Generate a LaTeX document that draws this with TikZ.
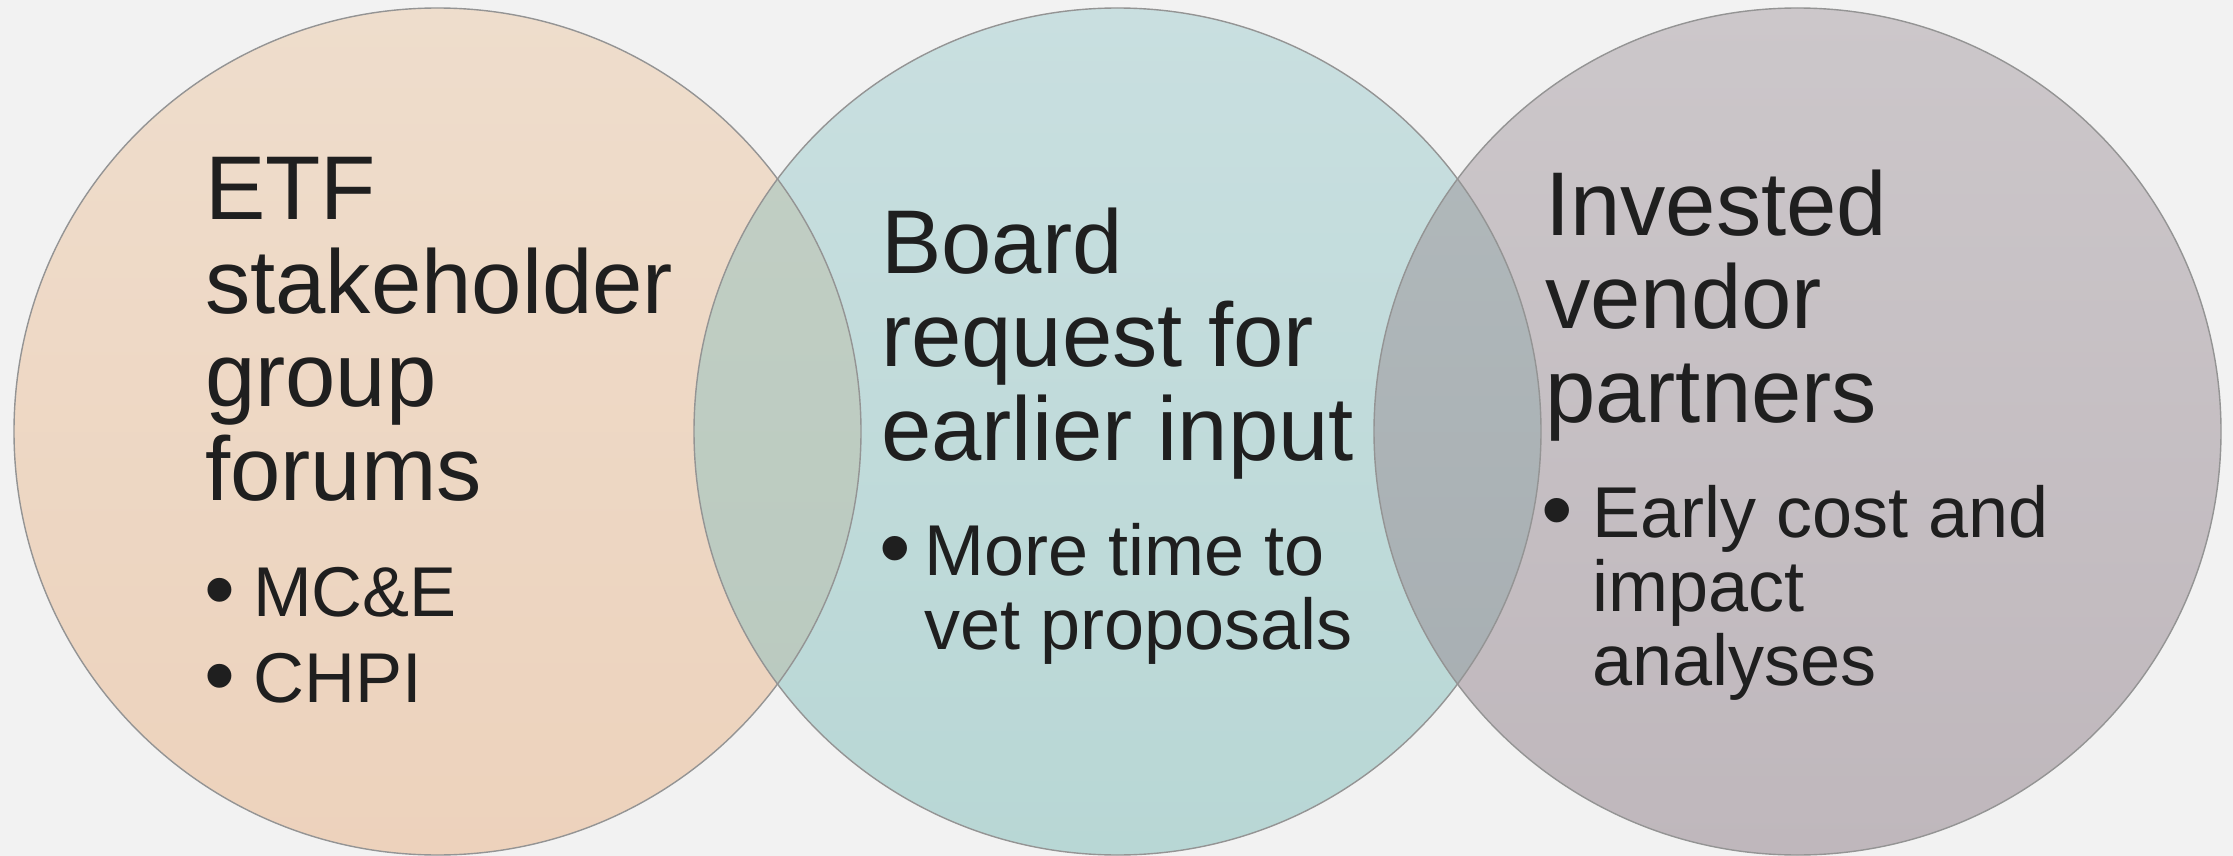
\documentclass[tikz,border=0pt]{standalone}
\usepackage{fontspec}
\setmainfont{Liberation Sans}
\usepackage{graphicx}
\usepackage{xcolor}
\usetikzlibrary{positioning}

\definecolor{pagebg}{HTML}{F2F2F2}
\definecolor{etftop}{HTML}{EEDDCC}
\definecolor{etfbot}{HTML}{EDD2BC}
\definecolor{boardtop}{HTML}{C9DFE0}
\definecolor{boardbot}{HTML}{B8D7D5}
\definecolor{vendtop}{HTML}{CCC7CA}
\definecolor{vendbot}{HTML}{BFB7BC}
\definecolor{lenslt}{HTML}{C3CFC4}
\definecolor{lenslb}{HTML}{B8C9BF}
\definecolor{lensrt}{HTML}{B2BABC}
\definecolor{lensrb}{HTML}{A6ADB1}
\definecolor{ink}{HTML}{1F1F1F}

% bullet item and its continuation line
\newcommand{\vbul}[2][46pt]{\makebox[#1][l]{\raisebox{-3.5pt}{\scalebox{1.25}{\textbullet}}}#2}
\newcommand{\vcont}[2][46pt]{\hspace*{#1}#2}

\begin{document}
\begin{tikzpicture}[x=1pt,y=-1pt,
  ring/.style={draw=black!42,line width=1.4pt},
  blurb/.style={anchor=base west,inner sep=0pt,align=left,text=ink},
  head/.style={blurb,font={\fontsize{90.5}{93.5}\selectfont}},
  items/.style={blurb,font={\fontsize{72}{74}\selectfont}}]
\fill[pagebg] (0,0) rectangle (2233,856);
\useasboundingbox (0,0) rectangle (2233,856);

\coordinate (etf) at (437.5,431.5);
\coordinate (board) at (1117.5,431.5);
\coordinate (vendor) at (1797.5,431.5);
\def\rad{423.5}

% circles
\shade[top color=etftop,bottom color=etfbot] (etf) circle (\rad);
\shade[top color=boardtop,bottom color=boardbot] (board) circle (\rad);
\shade[top color=vendtop,bottom color=vendbot] (vendor) circle (\rad);

% overlaps
\begin{scope}
  \clip (etf) circle (\rad);
  \shade[top color=lenslt,bottom color=lenslb] (board) circle (\rad);
\end{scope}
\begin{scope}
  \clip (board) circle (\rad);
  \shade[top color=lensrt,bottom color=lensrb] (vendor) circle (\rad);
\end{scope}

\draw[ring] (etf) circle (\rad);
\draw[ring] (board) circle (\rad);
\draw[ring] (vendor) circle (\rad);

% texts (base anchor sits on the last line)
\node[head] (etfhead) at (205,500) {ETF\\stakeholder\\group\\forums};
\node[items,font={\fontsize{70.5}{74}\selectfont}] (etflist) at (204,702)
  {\vbul[49pt]{MC\&E}\\[11.7pt]\vbul[49pt]{CHPI}};

\node[head] (boardhead) at (881,460) {Board\\request for\\earlier input};
\node[items] (boardlist) at (879,649)
  {\vbul[45pt]{More time to}\\\vcont[45pt]{vet proposals}};

\node[head] (vendorhead) at (1545,422) {Invested\\vendor\\partners};
\node[items] (vendorlist) at (1541,685)
  {\vbul[51pt]{Early cost and}\\\vcont[51pt]{impact}\\\vcont[51pt]{analyses}};
\end{tikzpicture}
\end{document}
